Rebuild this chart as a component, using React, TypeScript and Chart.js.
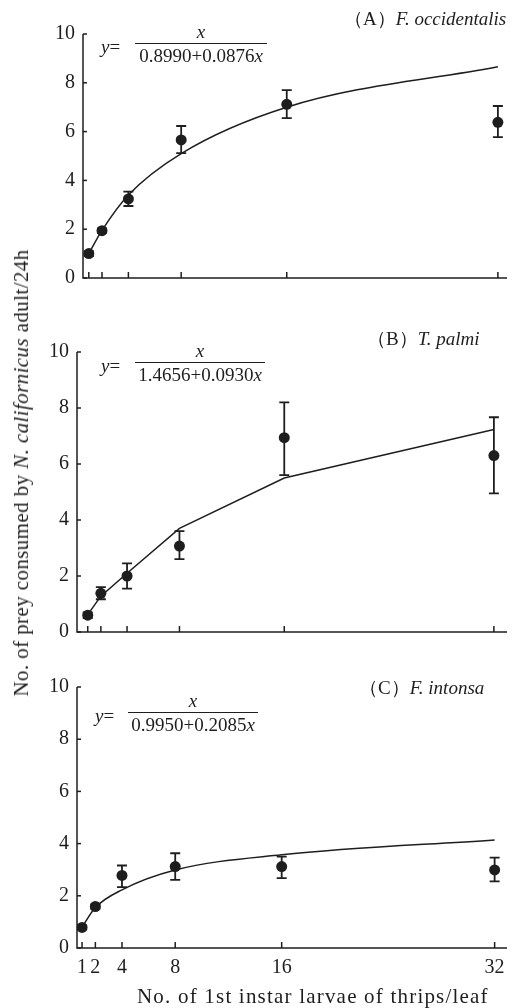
import React, { useEffect, useRef } from "react";
import { Chart, registerables } from "chart.js";

Chart.register(...registerables);

const X_VALUES = [1, 2, 4, 8, 16, 32];
const X_TICKS = [1, 2, 4, 8, 16, 32];
const Y_TICKS = [0, 2, 4, 6, 8, 10];

const A_MEAN = [1.0, 1.94, 3.24, 5.66, 7.12, 6.38];
const A_HIGH = [1.1, 2.03, 3.54, 6.23, 7.7, 7.05];
const A_LOW = [0.9, 1.85, 2.95, 5.12, 6.55, 5.77];
const A_FIT = [1.0, 1.95, 3.4, 5.1, 7.0, 8.66];

const B_MEAN = [0.6, 1.38, 2.0, 3.07, 6.94, 6.3];
const B_HIGH = [0.7, 1.6, 2.45, 3.6, 8.2, 7.67];
const B_LOW = [0.5, 1.17, 1.55, 2.6, 5.6, 4.95];
const B_FIT = [0.62, 1.28, 2.1, 3.7, 5.5, 7.23];

const C_MEAN = [0.79, 1.59, 2.78, 3.12, 3.12, 2.99];
const C_HIGH = [0.87, 1.67, 3.16, 3.63, 3.5, 3.46];
const C_LOW = [0.71, 1.51, 2.33, 2.61, 2.68, 2.55];
const C_FIT = [0.8, 1.55, 2.23, 2.99, 3.57, 4.14];

const INK = "#1e1e1e";
const SERIF = "'Liberation Serif', 'DejaVu Serif', serif";

type Panel = {
  top: number;
  height: number;
  spineX: number;
  plotTop: number;
  plotBottom: number;
  right: number;
  xMin: number;
  xMax: number;
  showXLabels: boolean;
  mean: number[];
  high: number[];
  low: number[];
  fit: number[];
  smooth: boolean;
};

const PANELS: Panel[] = [
  { top: 0, height: 300, spineX: 83, plotTop: 34, plotBottom: 278, right: 507, xMin: 0.56, xMax: 32.69, showXLabels: false, mean: A_MEAN, high: A_HIGH, low: A_LOW, fit: A_FIT, smooth: true },
  { top: 300, height: 360, spineX: 77, plotTop: 52, plotBottom: 332, right: 507, xMin: 0.18, xMax: 33.0, showXLabels: false, mean: B_MEAN, high: B_HIGH, low: B_LOW, fit: B_FIT, smooth: false },
  { top: 660, height: 348, spineX: 77, plotTop: 27, plotBottom: 288, right: 507, xMin: 0.62, xMax: 32.93, showXLabels: true, mean: C_MEAN, high: C_HIGH, low: C_LOW, fit: C_FIT, smooth: true },
];

function PanelChart({ p }: { p: Panel }) {
  const ref = useRef<HTMLCanvasElement | null>(null);
  useEffect(() => {
    if (!ref.current) return;
    const deco = {
      id: "deco",
      afterDatasetsDraw(chart: any) {
        const ctx = chart.ctx;
        const xs = chart.scales.x;
        const ys = chart.scales.y;
        const ca = chart.chartArea;
        ctx.save();
        ctx.strokeStyle = INK;
        ctx.lineWidth = 1.5;
        ctx.beginPath();
        ctx.moveTo(ca.left, ys.getPixelForValue(10));
        ctx.lineTo(ca.left, ys.getPixelForValue(0));
        ctx.lineTo(ca.right, ys.getPixelForValue(0));
        ctx.stroke();
        X_TICKS.forEach((v) => {
          const px = xs.getPixelForValue(v);
          ctx.beginPath();
          ctx.moveTo(px, ys.getPixelForValue(0));
          ctx.lineTo(px, ys.getPixelForValue(0) - 6);
          ctx.stroke();
        });
        Y_TICKS.forEach((v) => {
          const py = ys.getPixelForValue(v);
          ctx.beginPath();
          ctx.moveTo(ca.left, py);
          ctx.lineTo(ca.left + 4, py);
          ctx.stroke();
        });
        ctx.lineWidth = 1.8;
        X_VALUES.forEach((v, i) => {
          const px = xs.getPixelForValue(v);
          const yh = ys.getPixelForValue(p.high[i]);
          const yl = ys.getPixelForValue(p.low[i]);
          ctx.beginPath();
          ctx.moveTo(px, yh);
          ctx.lineTo(px, yl);
          ctx.moveTo(px - 5, yh);
          ctx.lineTo(px + 5, yh);
          ctx.moveTo(px - 5, yl);
          ctx.lineTo(px + 5, yl);
          ctx.stroke();
        });
        ctx.restore();
      },
    };
    const chart = new Chart(ref.current, {
      type: "line",
      data: {
        datasets: [
          {
            data: X_VALUES.map((x, i) => ({ x, y: p.fit[i] })),
            borderColor: INK,
            borderWidth: 1.5,
            pointRadius: 0,
            fill: false,
            cubicInterpolationMode: p.smooth ? "monotone" : "default",
            tension: 0,
          } as any,
          {
            data: X_VALUES.map((x, i) => ({ x, y: p.mean[i] })),
            showLine: false,
            pointRadius: 5.5,
            pointBackgroundColor: INK,
            pointBorderColor: INK,
            pointBorderWidth: 0,
          },
        ],
      },
      options: {
        responsive: false,
        animation: false,
        events: [],
        layout: { padding: { top: p.plotTop, right: 522 - p.right, left: 0, bottom: 0 } },
        plugins: { legend: { display: false }, tooltip: { enabled: false }, title: { display: false } },
        scales: {
          x: {
            type: "linear",
            min: p.xMin,
            max: p.xMax,
            grid: { display: false, drawTicks: false },
            border: { display: false },
            afterBuildTicks: (s: any) => {
              s.ticks = X_TICKS.map((v) => ({ value: v }));
            },
            afterFit: (s: any) => {
              s.height = p.height - p.plotBottom;
            },
            ticks: {
              display: p.showXLabels,
              autoSkip: false,
              maxRotation: 0,
              padding: 8,
              color: INK,
              font: { family: SERIF, size: 20 },
              callback: (v: any) => String(v),
            },
          },
          y: {
            min: 0,
            max: 10,
            grid: { display: false, drawTicks: false },
            border: { display: false },
            afterBuildTicks: (s: any) => {
              s.ticks = Y_TICKS.map((v) => ({ value: v }));
            },
            afterFit: (s: any) => {
              s.width = p.spineX;
            },
            ticks: {
              padding: 8,
              color: INK,
              font: { family: SERIF, size: 20 },
              callback: (v: any) => String(v),
            },
          },
        },
      },
      plugins: [deco],
    });
    return () => chart.destroy();
  }, [p]);
  return (
    <canvas
      ref={ref}
      width={522}
      height={p.height}
      style={{ position: "absolute", left: 0, top: p.top, width: 522, height: p.height }}
    />
  );
}

function Txt({ x, y, size, children, style }: any) {
  return (
    <div
      style={{
        position: "absolute",
        left: x,
        top: y - size * 0.55,
        fontSize: size,
        lineHeight: "1.1",
        fontFamily: SERIF,
        color: INK,
        whiteSpace: "nowrap",
        ...style,
      }}
    >
      {children}
    </div>
  );
}

function Equation({ x, y, lineLeft, lineRight, denom }: any) {
  const w = lineRight - lineLeft;
  const common: any = { position: "absolute", left: lineLeft, width: w, textAlign: "center", fontFamily: SERIF, fontSize: 19, lineHeight: "20px", color: INK };
  return (
    <>
      <Txt x={x} y={y + 4} size={19}>
        <i>y</i>=
      </Txt>
      <div style={{ position: "absolute", left: lineLeft, top: y, width: w, height: 1, background: INK }} />
      <div style={{ ...common, top: y - 21 }}>
        <i>x</i>
      </div>
      <div style={{ ...common, top: y + 3 }}>
        {denom}
        <i>x</i>
      </div>
    </>
  );
}

export default function App() {
  return (
    <div style={{ position: "absolute", left: 0, top: 0, width: 522, height: 1008, background: "#fff", overflow: "hidden" }}>
      {PANELS.map((p, i) => (
        <PanelChart key={i} p={p} />
      ))}
      <Txt x={344} y={19} size={19}>
        （A）<i>F. occidentalis</i>
      </Txt>
      <Txt x={367} y={339} size={19}>
        （B）<i>T. palmi</i>
      </Txt>
      <Txt x={359} y={688} size={19}>
        （C）<i>F. intonsa</i>
      </Txt>
      <Equation x={101} y={43} lineLeft={135} lineRight={267} denom="0.8990+0.0876" />
      <Equation x={101} y={362} lineLeft={135} lineRight={265} denom="1.4656+0.0930" />
      <Equation x={95} y={712} lineLeft={128} lineRight={258} denom="0.9950+0.2085" />
      <div style={{ position: "absolute", left: 137, width: 360, top: 985, fontFamily: SERIF, fontSize: 21, letterSpacing: "1.2px", color: INK, lineHeight: "22px", whiteSpace: "nowrap" }}>
        No. of 1st instar larvae of thrips/leaf
      </div>
      <div
        style={{
          position: "absolute",
          left: 21,
          top: 473,
          transform: "translate(-50%, -50%) rotate(-90deg)",
          fontFamily: SERIF,
          fontSize: 21,
          letterSpacing: "0.4px",
          color: INK,
          whiteSpace: "nowrap",
          lineHeight: "22px",
        }}
      >
        No. of prey consumed by <i>N. californicus</i> adult/24h
      </div>
    </div>
  );
}
